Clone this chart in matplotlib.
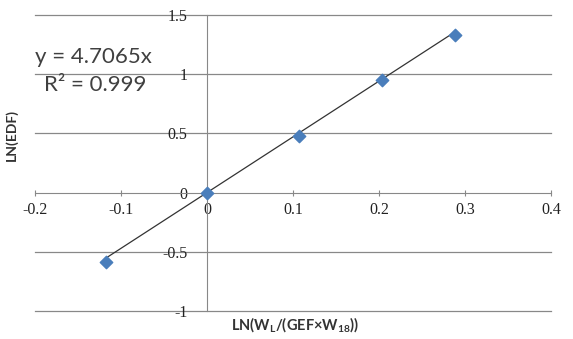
import matplotlib.pyplot as plt
import numpy as np

# measured points
x_vals = [-0.118, 0.0, 0.107, 0.204, 0.288]
y_vals = [-0.59, 0.0, 0.475, 0.955, 1.335]

slope = 4.7065
r2 = 0.999

x_ticks = [-0.2, -0.1, 0, 0.1, 0.2, 0.3, 0.4]
y_ticks = [-1, -0.5, 0, 0.5, 1, 1.5]

fig = plt.figure(figsize=(5.73, 3.39), dpi=100)
ax = fig.add_axes([35 / 573, 1 - 311 / 339, 516 / 573, 296 / 339])

ax.set_xlim(-0.2, 0.4)
ax.set_ylim(-1, 1.5)

# horizontal grid
for yv in y_ticks:
    if yv != 0:
        ax.axhline(yv, color='#888888', lw=0.9, zorder=0, clip_on=False)

# axes through origin
for side in ['top', 'right']:
    ax.spines[side].set_visible(False)
ax.spines['left'].set_position(('data', 0))
ax.spines['bottom'].set_position(('data', 0))
ax.spines['left'].set_color('#888888')
ax.spines['bottom'].set_color('#888888')
ax.spines['left'].set_bounds(-1, 1.5)

ax.set_xticks(x_ticks)
ax.set_yticks(y_ticks)
ax.set_xticklabels(['-0.2', '-0.1', '0', '0.1', '0.2', '0.3', '0.4'])
ax.set_yticklabels(['-1', '-0.5', '0', '0.5', '1', '1.5'])
ax.tick_params(axis='x', direction='inout', length=5, color='#888888', pad=4)
ax.tick_params(axis='y', length=0, pad=14)
for lab in ax.get_xticklabels() + ax.get_yticklabels():
    lab.set_fontfamily('Liberation Serif')
    lab.set_fontsize(11.5)
    lab.set_color('#222222')

# trendline through origin
xl = np.array([min(x_vals), max(x_vals)])
ax.plot(xl, slope * xl, color='#333333', lw=0.9, zorder=2)
ax.scatter(x_vals, y_vals, marker='D', s=40, color='#4a7ebb', zorder=3)

fig.text(35 / 573, 1 - 57 / 339, 'y = 4.7065x', fontsize=16, family='Lato',
         color='#404040', va='center', ha='left')
fig.text(44 / 573, 1 - 85 / 339, 'R² = %.3f' % r2, fontsize=16, family='Lato',
         color='#404040', va='center', ha='left')

fig.text(12 / 573, 1 - 135 / 339, 'LN(EDF)', rotation=90, fontsize=10,
         family='Lato', weight='bold', color='#333333', va='center', ha='center')
fig.text(295 / 573, 1 - 325 / 339, r'LN(W$_\mathregular{L}$/(GEF×W$_\mathregular{18}$))',
         fontsize=10.5, family='Lato', weight='bold', color='#333333',
         va='center', ha='center')

fig.savefig('out.png', dpi=100)
